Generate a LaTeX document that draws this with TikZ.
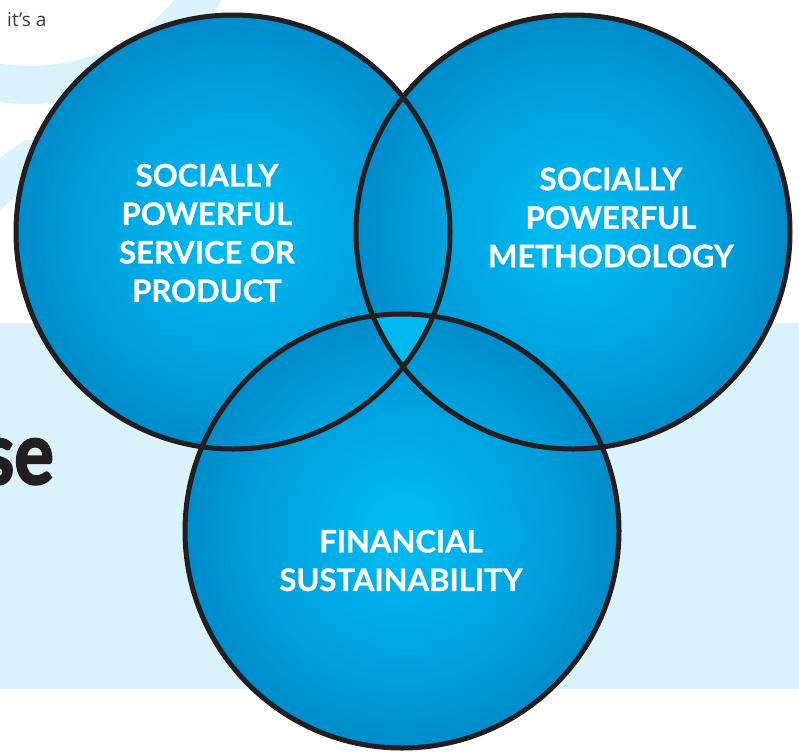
\documentclass[tikz,border=0pt]{standalone}
\usepackage{fontspec}
\usepackage{graphicx}
\setmainfont{Lato}[BoldFeatures={FakeBold=0.8}]
\newfontfamily\sefont{Lato}[BoldFeatures={FakeBold=2.5}]
\newfontfamily\opensans{Open Sans}
\definecolor{vdark}{RGB}{0,94,158}
\definecolor{vdeep}{RGB}{0,118,182}
\definecolor{vmid}{RGB}{0,156,218}
\definecolor{vcyan}{RGB}{0,183,238}
\definecolor{bandc}{RGB}{218,242,252}
\definecolor{ink}{RGB}{35,31,32}
\definecolor{grayt}{RGB}{60,60,60}
\pgfdeclareradialshading{vennshade}{\pgfpoint{0bp}{0bp}}{color(0bp)=(vcyan); color(4bp)=(vcyan); color(18bp)=(vmid); color(34bp)=(vdeep); color(50bp)=(vdark)}
\begin{document}
\begin{tikzpicture}[x=1pt,y=-1pt,
  vennfill/.style={shading=vennshade},
  vennline/.style={draw=ink, line width=5pt},
  lbl/.style={text=white, font=\fontsize{31}{38.5}\selectfont\bfseries, align=center, inner sep=0pt},
]
\useasboundingbox (0,0) rectangle (799,753);
\fill[white] (0,0) rectangle (799,753);
\fill[bandc] (0,323) rectangle (799,689);
\draw[bandc, line width=38pt] (30,-125) circle[radius=210pt];
\begin{scope}
  \clip (0,140) rectangle (80,260);
  \draw[bandc, line width=40pt] (200,420) circle[radius=310pt];
\end{scope}
\node[anchor=base west, inner sep=0pt, text=grayt, font=\opensans\fontsize{19}{22}\selectfont] (itsa) at (7,26) {it’s a};
\node[anchor=base east, inner sep=0pt, text=ink, font=\sefont\fontsize{87}{90}\selectfont\bfseries] (se) at (54,484) {\scalebox{0.85}[1]{se}};
\coordinate (cL) at (233,232);
\coordinate (cR) at (573,232);
\coordinate (cB) at (402,531);
\shade[vennfill] (cL) circle[radius=217pt];
\shade[vennfill] (cR) circle[radius=217pt];
\shade[vennfill] (cB) circle[radius=217pt];
\begin{scope}
  \clip (cL) circle[radius=217pt];
  \clip (cR) circle[radius=217pt];
  \fill[vcyan] (cB) circle[radius=217pt];
\end{scope}
\draw[vennline] (cL) circle[radius=217pt];
\draw[vennline] (cR) circle[radius=217pt];
\draw[vennline] (cB) circle[radius=217pt];
\node[lbl] (tL) at (207,233) {SOCIALLY\\POWERFUL\\SERVICE OR\\PRODUCT};
\node[lbl] (tR) at (611,217.5) {SOCIALLY\\POWERFUL\\METHODOLOGY};
\node[lbl] (tB) at (401,560.5) {FINANCIAL\\SUSTAINABILITY};
\end{tikzpicture}
\end{document}
